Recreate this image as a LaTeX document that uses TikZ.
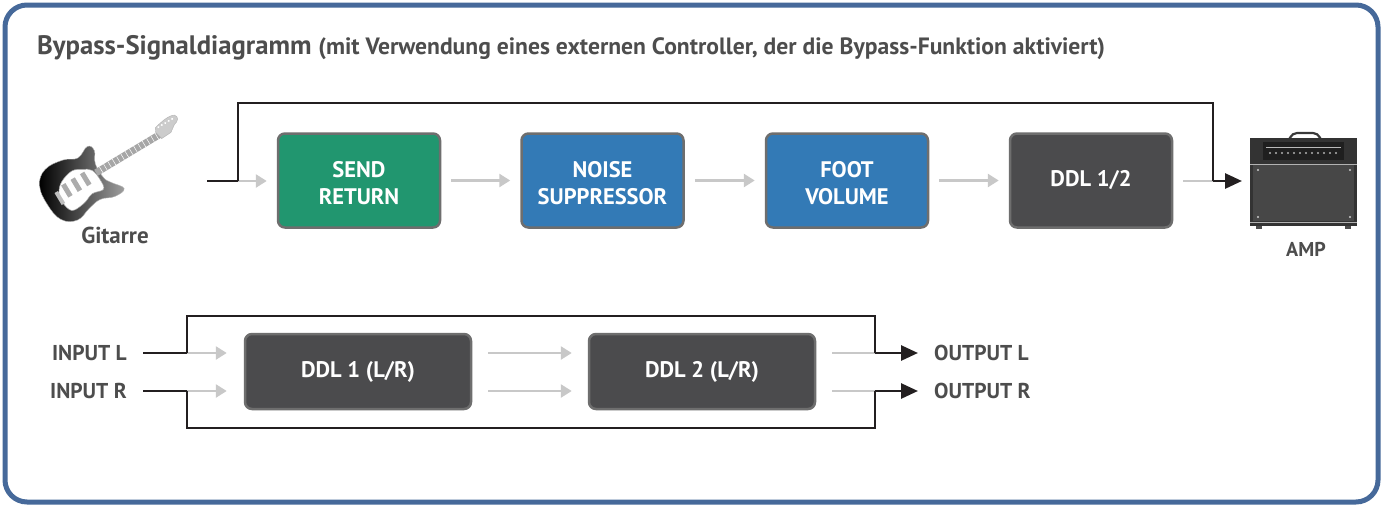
\documentclass[tikz,border=0pt]{standalone}
\usepackage{fontspec}
\setmainfont{PT Sans}
\usetikzlibrary{arrows.meta,calc}

\definecolor{framecol}{HTML}{46699A}
\definecolor{txtcol}{HTML}{4D4D4D}
\definecolor{edgecol}{HTML}{6E6E6E}
\definecolor{greenfx}{HTML}{21966F}
\definecolor{bluefx}{HTML}{337AB6}
\definecolor{darkfx}{HTML}{4B4B4D}
\definecolor{greyline}{HTML}{C8C8C8}
\definecolor{blackline}{HTML}{231F20}

\newcommand{\toprow}{\rule{0pt}{22pt}}

\tikzset{
  fxbox/.style={rounded corners=7pt, draw=edgecol, line width=2.5pt,
    text=white, font=\fontsize{22.5}{27}\selectfont\bfseries, align=center,
    minimum width=162pt, minimum height=94pt, inner sep=0pt},
  stereobox/.style={fxbox, fill=darkfx, minimum width=226pt, minimum height=75pt},
  lbl/.style={text=txtcol, font=\fontsize{21.5}{24}\selectfont\bfseries, inner sep=0pt},
  garrow/.style={draw=greyline, line width=2.6pt,
    -{Triangle[length=11pt,width=13pt]}},
  gline/.style={draw=greyline, line width=2.6pt},
  bline/.style={draw=blackline, line width=2.8pt},
  barrow/.style={draw=blackline, line width=2.8pt,
    -{Triangle[length=17pt,width=15pt]}},
}

\begin{document}
\begin{tikzpicture}[x=1pt,y=-1pt]
\useasboundingbox (0,0) rectangle (1382,506);
\fill[white] (0,0) rectangle (1382,506);

% outer frame
\draw[framecol, line width=5pt, rounded corners=22pt] (5,5) rectangle (1378,502);

% heading
\node[anchor=base west, text=txtcol, inner sep=0pt] (title) at (37,54)
  {\fontsize{26.7}{30}\selectfont\bfseries Bypass-Signaldiagramm
   \fontsize{23.6}{26}\selectfont (mit Verwendung eines externen Controller, der die Bypass-Funktion aktiviert)};

% ---------- upper chain ----------
\node[fxbox, fill=greenfx] (send)  at (359,180.5)  {\toprow SEND\\RETURN};
\node[fxbox, fill=bluefx]  (noise) at (602.5,180.5) {\toprow NOISE\\SUPPRESSOR};
\node[fxbox, fill=bluefx]  (foot)  at (847,180.5)  {\toprow FOOT\\VOLUME};
\node[fxbox, fill=darkfx]  (ddl)   at (1091,180.5) {DDL 1/2};

% guitar
\begin{scope}[shift={(84,180)}, rotate=31]
  \shade[left color=black, right color=gray!75, draw=gray!60, line width=0.4pt]
    plot[smooth cycle, tension=0.7] coordinates
    {(-44,2) (-40,22) (-26,31) (-10,27) (4,25) (18,30) (30,28) (22,16) (18,8)
     (18,-8) (24,-20) (20,-27) (6,-22) (-8,-28) (-28,-29) (-41,-18)};
  \fill[white, draw=gray!70, line width=0.5pt]
    plot[smooth cycle, tension=0.6] coordinates
    {(-30,8) (-26,20) (-12,20) (0,16) (12,18) (14,8) (12,-4) (4,-10) (-6,-14) (-20,-10) (-28,-2)};
  \foreach \px in {-20,-9,2}
    \fill[gray!65] (\px-2.5,-7) rectangle (\px+2.5,7);
  \fill[gray!50] (-32,-4) rectangle (-28,10);
  % neck and headstock
  \fill[gray!70] (14,-3.5) rectangle (88,3.5);
  \foreach \fx in {20,25,...,86}
    \draw[white, line width=0.5pt] (\fx,-3.5) -- (\fx,3.5);
  \fill[gray!40, draw=gray!60, line width=0.4pt]
    (86,-4) -- (88,-8) .. controls (96,-10) and (106,-12) .. (111,-9)
    .. controls (114,-5) and (111,-2) .. (106,-1)
    -- (99,4) -- (88,4.5) -- cycle;
  \foreach \tx in {91,95,...,107}
    \fill[white] (\tx,-7) circle (1.1pt);
\end{scope}
\node[lbl, font=\fontsize{23}{26}\selectfont\bfseries] (gitarre) at (115,235) {Gitarre};

% amp
\begin{scope}
  \draw[gray!45!black, line width=2.2pt, rounded corners=5pt] (1289,140) -- (1292,133) -- (1318,133) -- (1321,140);
  \fill[black!80] (1250,138) rectangle (1357,226);
  \fill[black!88] (1263,142) rectangle (1344,160);
  \foreach \kx in {1270,1276,...,1340}
    \fill[gray!60] (\kx,153) circle (1.1pt);
  \draw[gray!55, line width=0.6pt] (1266,147) -- (1341,147);
  \fill[black!72] (1253,165) rectangle (1354,221);
  \draw[gray!60, line width=0.8pt] (1250,164) -- (1357,164);
  \draw[gray!60, line width=0.8pt] (1250,222) -- (1357,222);
  \foreach \dx/\dy in {1258/170, 1350/170, 1258/217, 1350/217}
    \fill[gray!40] (\dx,\dy) circle (1.1pt);
  \fill[black!70] (1256,226) rectangle (1262,229);
  \fill[black!70] (1345,226) rectangle (1351,229);
  \coordinate (ampin) at (1250,181);
\end{scope}
\node[lbl, font=\fontsize{20}{24}\selectfont\bfseries] (amp) at (1306,249) {AMP};

% upper connectors
\coordinate (gtrout) at (207,181);
\coordinate (split)  at (238,181);
\coordinate (merge)  at (1213,181);
\draw[bline] (gtrout) -- (split);
\draw[garrow, shorten >=10pt] (split) -- (send.west |- split);
\draw[garrow, shorten <=10pt, shorten >=10pt] (send) -- (noise);
\draw[garrow, shorten <=10pt, shorten >=10pt] (noise) -- (foot);
\draw[garrow, shorten <=10pt, shorten >=10pt] (foot) -- (ddl);
\draw[gline, shorten <=10pt] (ddl.east |- merge) -- (merge);
\draw[bline] (split) -- ++(0,-78) -| (merge);
\draw[barrow, shorten >=8pt] (merge) -- (ampin);

% ---------- lower chain ----------
\node[stereobox] (ddla) at (358,371.5) {DDL 1 (L/R)};
\node[stereobox] (ddlb) at (702,371.5) {DDL 2 (L/R)};

\node[lbl, anchor=east] (inl)  at (127,353) {INPUT L};
\node[lbl, anchor=east] (inr)  at (127,391) {INPUT R};
\node[lbl, anchor=west] (outl) at (934,353) {OUTPUT L};
\node[lbl, anchor=west] (outr) at (934,391) {OUTPUT R};

\coordinate (inlend) at (143,353);
\coordinate (inrend) at (143,391);
\coordinate (spl) at (187,353);
\coordinate (spr) at (187,391);
\coordinate (mgl) at (875,353);
\coordinate (mgr) at (875,391);

\draw[bline] (inlend) -- (spl);
\draw[bline] (inrend) -- (spr);
\draw[garrow, shorten >=17pt] (spl) -- (ddla.west |- spl);
\draw[garrow, shorten >=17pt] (spr) -- (ddla.west |- spr);
\draw[garrow, shorten <=16pt, shorten >=16pt] (ddla.east |- spl) -- (ddlb.west |- spl);
\draw[garrow, shorten <=16pt, shorten >=16pt] (ddla.east |- spr) -- (ddlb.west |- spr);
\draw[gline, shorten <=16pt] (ddlb.east |- mgl) -- (mgl);
\draw[gline, shorten <=16pt] (ddlb.east |- mgr) -- (mgr);
\draw[bline] (spl) -- ++(0,-37) -| (mgl);
\draw[bline] (spr) -- ++(0,37) -| (mgr);
\draw[barrow, shorten >=16pt] (mgl) -- (outl.west);
\draw[barrow, shorten >=16pt] (mgr) -- (outr.west);
\end{tikzpicture}
\end{document}
